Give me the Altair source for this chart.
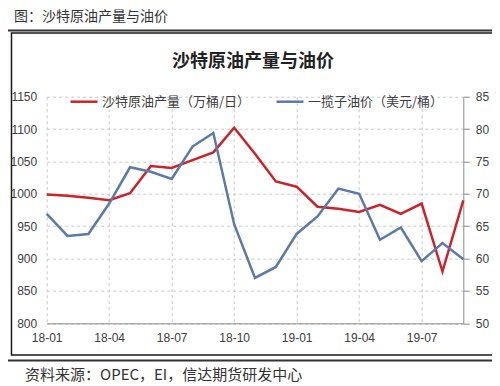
import altair as alt
import pandas as pd

# ---------------- data ----------------
months = ["18-01", "18-02", "18-03", "18-04", "18-05", "18-06", "18-07", "18-08", "18-09",
          "18-10", "18-11", "18-12", "19-01", "19-02", "19-03", "19-04", "19-05", "19-06",
          "19-07", "19-08", "19-09"]
production = [999, 997, 994, 990, 1001, 1043, 1040, 1052, 1064, 1102, 1062, 1019,
              1011, 980, 977, 972, 983, 969, 985, 880, 990]
price = [66.9, 63.5, 63.8, 68.5, 74.1, 73.4, 72.3, 77.3, 79.4, 65.3, 57.0, 58.7,
         63.8, 66.5, 70.8, 70.0, 62.9, 64.8, 59.6, 62.4, 59.9]
tick_months = ["18-01", "18-04", "18-07", "18-10", "19-01", "19-04", "19-07"]
left_ticks = [800, 850, 900, 950, 1000, 1050, 1100, 1150]
right_ticks = [50, 55, 60, 65, 70, 75, 80, 85]
s_prod = "沙特原油产量（万桶/日）"
s_price = "一揽子油价（美元/桶）"
header_text = "图：沙特原油产量与油价"
title_text = "沙特原油产量与油价"
source_text = "资料来源：OPEC，EI，信达期货研发中心"

RED = "#cc2229"
BLUE = "#5b7aa8"
CJK = "Noto Sans CJK SC"
LAT = "Liberation Sans"

# plot area geometry (page coords)
PL, PT = 46.7, 96.7
W, H = 416.6, 226.6
TOTAL_W, TOTAL_H = 484, 378


def px(x):
    return x - PL


def py(y):
    return y - PT


df_prod = pd.DataFrame({"month": months, "value": production, "series": s_prod})
df_price = pd.DataFrame({"month": months, "value": price, "series": s_price})

color_scale = alt.Scale(domain=[s_prod, s_price], range=[RED, BLUE])
legend = alt.Legend(orient="none", legendX=22.3, legendY=-10, direction="horizontal",
                    title=None, symbolType="stroke", symbolSize=729, symbolStrokeWidth=2.5,
                    labelFont=CJK, labelFontSize=13, labelColor="#404040",
                    columnPadding=20, labelOffset=3, padding=0)

x_enc = alt.X("month:O", sort=months,
              scale=alt.Scale(type="point", padding=0),
              axis=alt.Axis(values=tick_months, title=None, labelAngle=0, grid=True,
                            gridDash=[3, 3], gridColor="#c8c8c8", domainColor="#8c8c8c",
                            ticks=False, labelPadding=9, labelFont=LAT, labelFontSize=12,
                            labelColor="#404040"))

prod_line = alt.Chart(df_prod).mark_line(strokeWidth=2.5).encode(
    x=x_enc,
    y=alt.Y("value:Q", scale=alt.Scale(domain=[800, 1150], nice=False, zero=False),
            axis=alt.Axis(orient="left", values=left_ticks, format="d", title=None,
                          grid=True, gridDash=[3, 3], gridColor="#c8c8c8", domain=False,
                          ticks=False, labelPadding=10, labelFont=LAT, labelFontSize=12,
                          labelColor="#404040")),
    color=alt.Color("series:N", scale=color_scale, legend=legend),
)

price_line = alt.Chart(df_price).mark_line(strokeWidth=2.5).encode(
    x=x_enc,
    y=alt.Y("value:Q", scale=alt.Scale(domain=[50, 85], nice=False, zero=False),
            axis=alt.Axis(orient="right", values=right_ticks, format="d", title=None,
                          grid=False, domainColor="#8c8c8c", tickColor="#8c8c8c",
                          tickSize=6, labelPadding=6, labelFont=LAT, labelFontSize=12,
                          labelColor="#404040")),
    color=alt.Color("series:N", scale=color_scale, legend=legend),
)

one = pd.DataFrame({"a": [0]})

box = alt.Chart(one).mark_rect(fillOpacity=0, stroke="#1a1a1a", strokeWidth=1.5).encode(
    x=alt.value(px(11.5)), x2=alt.value(px(493.5)),
    y=alt.value(py(33)), y2=alt.value(py(355)))

top_rule = alt.Chart(one).mark_rule(color="#333333", strokeWidth=2).encode(
    x=alt.value(px(3)), x2=alt.value(px(500)), y=alt.value(py(30.5)))
bottom_rule = alt.Chart(one).mark_rule(color="#333333", strokeWidth=2).encode(
    x=alt.value(px(3)), x2=alt.value(px(500)), y=alt.value(py(360.5)))

header = alt.Chart(pd.DataFrame({"t": [header_text]})).mark_text(
    font=CJK, fontSize=14, color="#333333", align="left", baseline="middle").encode(
    text="t:N", x=alt.value(px(14)), y=alt.value(py(16.5)))

title = alt.Chart(pd.DataFrame({"t": [title_text]})).mark_text(
    font=CJK, fontSize=18, fontWeight="bold", color="#222222", align="center",
    baseline="middle").encode(
    text="t:N", x=alt.value(px(253)), y=alt.value(py(62)))

source = alt.Chart(pd.DataFrame({"t": [source_text]})).mark_text(
    font=CJK, fontSize=15, color="#333333", align="left", baseline="middle").encode(
    text="t:N", x=alt.value(px(25)), y=alt.value(py(375)))

lines = alt.layer(prod_line, price_line).resolve_scale(y="independent")

chart = alt.layer(lines, box, top_rule, bottom_rule, header, title, source).properties(
    width=W, height=H,
    padding={"left": PL - 8, "top": PT - 8, "right": TOTAL_W - (PL - 8) - W,
             "bottom": TOTAL_H - (PT - 8) - H},
    autosize=alt.AutoSizeParams(type="none"),
).configure_view(stroke=None)

chart.save("out.html", embed_options={"renderer": "svg", "actions": False})
